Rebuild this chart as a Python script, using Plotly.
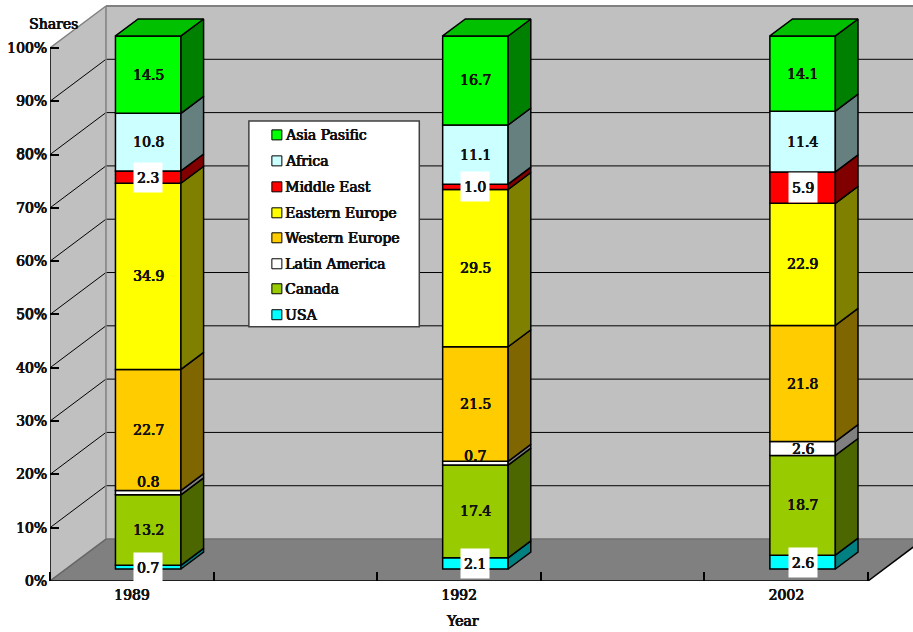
import plotly.graph_objects as go

# Market shares by region, stacked to 100% for each year
years = ["1989", "1992", "2002"]
year_slots = [0.5, 2.5, 4.5]
regions = ["USA", "Canada", "Latin America", "Western Europe",
           "Eastern Europe", "Middle East", "Africa", "Asia Pasific"]
usa = [0.7, 2.1, 2.6]
canada = [13.2, 17.4, 18.7]
latin_america = [0.8, 0.7, 2.6]
western_europe = [22.7, 21.5, 21.8]
eastern_europe = [34.9, 29.5, 22.9]
middle_east = [2.3, 1.0, 5.9]
africa = [10.8, 11.1, 11.4]
asia_pacific = [14.5, 16.7, 14.1]
series = [usa, canada, latin_america, western_europe,
          eastern_europe, middle_east, africa, asia_pacific]

front_colors = ["#00FFFF", "#99CC00", "#FFFFFF", "#FFCC00",
                "#FFFF00", "#FF0000", "#CCFFFF", "#00FF00"]
side_colors = ["#008080", "#4C6600", "#808080", "#806600",
               "#808000", "#800000", "#668080", "#008000"]
top_color = "#00C000"

y_ticks = [0, 10, 20, 30, 40, 50, 60, 70, 80, 90, 100]
y_tick_labels = ["0%", "10%", "20%", "30%", "40%", "50%", "60%", "70%", "80%", "90%", "100%"]

# Regular serif thickened with hairline offset copies of each glyph
INK = "#111111"
FONT = dict(family="DejaVu Serif", size=14, color=INK,
            shadow=f"0.6px 0 0 {INK}, 0.3px 0.2px 0 {INK}, -0.2px 0 0 {INK}")

# Plot geometry: one x unit per slot, y in percent
W, H = 913, 632
LEFT, BOTTOM = 49.5, 50.5
X_UNIT = (868 - 49.5) / 5
Y_UNIT = (581.5 - 48) / 100
X_MAX = (W - LEFT) / X_UNIT
Y_MAX = (H - BOTTOM) / Y_UNIT

# Oblique projection: depth 0 is the front plane, depth 1 the back wall
DEPTH_X = 56 / X_UNIT
DEPTH_Y = 42 / Y_UNIT
BAR_FRONT, BAR_BACK = 12 / 42, 29 / 42
BAR_WIDTH = 65.5 / X_UNIT
BAR_NUDGE = 0.4 / X_UNIT


def project(x, pct, depth):
    return x + depth * DEPTH_X, pct + depth * DEPTH_Y


def from_px(px, py):
    return (px - LEFT) / X_UNIT, (H - BOTTOM - py) / Y_UNIT


def polygon(points):
    return "M" + " L".join(f"{x:.4f},{y:.4f}" for x, y in points) + " Z"


def shape_path(points, fill, line="rgba(0,0,0,0)", width=0):
    return dict(type="path", path=polygon(points), fillcolor=fill, xref="x", yref="y",
                line=dict(color=line, width=width), layer="below")


def shape_line(a, b, color, width):
    return dict(type="line", x0=a[0], y0=a[1], x1=b[0], y1=b[1], xref="x", yref="y",
                line=dict(color=color, width=width), layer="below")


shapes = [
    shape_path([project(0, 0, 0), project(0, 100, 0), project(0, 100, 1), project(0, 0, 1)], "#C0C0C0"),
    shape_path([project(0, 0, 1), project(0, 100, 1), project(5, 100, 1), project(5, 0, 1)], "#C0C0C0"),
    shape_path([project(0, 0, 0), project(0, 0, 1), project(5, 0, 1), project(5, 0, 0)], "#808080"),
]
for tick in y_ticks[1:-1]:
    shapes.append(shape_line(project(0, tick, 0), project(0, tick, 1), "#000000", 1))
    shapes.append(shape_line(project(0, tick, 1), project(5, tick, 1), "#000000", 1))
shapes += [
    shape_line(project(0, 100, 0), project(0, 100, 1), "#808080", 1.5),
    shape_line(project(0, 100, 1), project(5, 100, 1), "#808080", 2),
    shape_line(project(0, 0, 1), project(0, 100, 1), "#808080", 1.5),
    shape_line(project(0, 0, 0), project(0, 0, 1), "#666666", 1.5),
    shape_line(project(0, 0, 1), project(5, 0, 1), "#707070", 1.5),
    shape_line(project(5, 0, 0), project(5, 0, 1), "#000000", 1.5),
]

fig = go.Figure()
annotations = []


def text_label(x, y, text, anchor="center", yref="y", **extra):
    annotations.append(dict(x=x, y=y, xref="x", yref=yref, text=text, showarrow=False,
                            xanchor=anchor, yanchor="middle", font=FONT, **extra))


# Stack each year, scaled to a full 100%
totals = [sum(s[i] for s in series) for i in range(len(years))]
running = [0.0] * len(years)
thin_label_lift = [1.6, 1.0, 0.0]
for k, (name, values) in enumerate(zip(regions, series)):
    shares = [v / t * 100 for v, t in zip(values, totals)]
    bases = list(running)
    tops = [b + s for b, s in zip(bases, shares)]
    front_base = [project(0, b, BAR_FRONT)[1] for b in bases]
    centers = [project(x, 0, BAR_FRONT)[0] + BAR_NUDGE for x in year_slots]

    fig.add_trace(go.Bar(x=centers, y=shares, base=front_base, width=BAR_WIDTH, name=name,
                         marker=dict(color=front_colors[k], line=dict(color="#000000", width=1.5)),
                         hoverinfo="skip", showlegend=False))

    # Right-hand face of every segment
    xs, ys = [], []
    for slot, b, t in zip(year_slots, bases, tops):
        right = slot + BAR_NUDGE + BAR_WIDTH / 2
        corners = [project(right, b, BAR_FRONT), project(right, b, BAR_BACK),
                   project(right, t, BAR_BACK), project(right, t, BAR_FRONT),
                   project(right, b, BAR_FRONT)]
        xs += [c[0] for c in corners] + [None]
        ys += [c[1] for c in corners] + [None]
    fig.add_trace(go.Scatter(x=xs, y=ys, mode="lines", fill="toself", fillcolor=side_colors[k],
                             line=dict(color="#000000", width=1.5), hoverinfo="skip",
                             showlegend=False, cliponaxis=False))

    # Value labels: thin segments carry a white box or sit just above the band
    for c, b, s, v, lift in zip(centers, front_base, shares, values, thin_label_lift):
        mid = b + s / 2
        if name == "Latin America" and v < 1:
            text_label(c, b + s + lift, f"{v:.1f}")
        elif name == "USA" or name == "Middle East":
            text_label(c, mid, f"{v:.1f}", bgcolor="#FFFFFF", width=26, height=27)
        else:
            text_label(c, mid, f"{v:.1f}")
    running = tops

# Top face of each column
xs, ys = [], []
for slot, t in zip(year_slots, running):
    left, right = slot + BAR_NUDGE - BAR_WIDTH / 2, slot + BAR_NUDGE + BAR_WIDTH / 2
    corners = [project(left, t, BAR_FRONT), project(left, t, BAR_BACK), project(right, t, BAR_BACK),
               project(right, t, BAR_FRONT), project(left, t, BAR_FRONT)]
    xs += [c[0] for c in corners] + [None]
    ys += [c[1] for c in corners] + [None]
fig.add_trace(go.Scatter(x=xs, y=ys, mode="lines", fill="toself", fillcolor=top_color,
                         line=dict(color="#000000", width=1.5), hoverinfo="skip",
                         showlegend=False, cliponaxis=False))

# Axis lines stop at the chart's own extent, not at the plot area's
for ax, ay in (([0, 0], [0, 100]), ([0, 5], [0, 0])):
    fig.add_trace(go.Scatter(x=ax, y=ay, mode="lines", line=dict(color="#000000", width=1.5),
                             hoverinfo="skip", showlegend=False, cliponaxis=False))

# Legend box, listed top-down from the last series
bx0, by0 = from_px(248.5, 121)
bx1, by1 = from_px(419, 327)
shapes.append(dict(type="rect", x0=bx0, y0=by0, x1=bx1, y1=by1, xref="x", yref="y",
                   fillcolor="#FFFFFF", line=dict(color="#404040", width=1.5), layer="below"))
legend_rows = [135, 161, 187, 213, 238, 264, 289, 315]
for row, name, color in zip(legend_rows, reversed(regions), reversed(front_colors)):
    sx0, sy0 = from_px(271.5, row - 5)
    sx1, sy1 = from_px(281.5, row + 5)
    shapes.append(dict(type="rect", x0=sx0, y0=sy0, x1=sx1, y1=sy1, xref="x", yref="y",
                       fillcolor=color, line=dict(color="#000000", width=1), layer="below"))
    tx, ty = from_px(282.5, row)
    text_label(tx, ty, name, anchor="left")

tx, ty = from_px(52.5, 24)
text_label(tx, ty, "Shares")
tx, _ = from_px(462, 622)
text_label(tx, (H - BOTTOM - 622) / (H - BOTTOM), "Year", yref="paper")

fig.update_layout(
    width=W, height=H,
    margin=dict(l=LEFT, r=0, t=0, b=BOTTOM, pad=0),
    paper_bgcolor="#FFFFFF", plot_bgcolor="#FFFFFF",
    barmode="overlay", showlegend=False, shapes=shapes, annotations=annotations,
    xaxis=dict(range=[0, X_MAX], tickmode="array", tickvals=year_slots, ticktext=years,
               ticks="", showgrid=False, zeroline=False, showline=False, tickfont=FONT,
               ticklabelstandoff=4,
               minor=dict(tickmode="array", tickvals=[0, 1, 2, 3, 4, 5], ticks="inside",
                          ticklen=9, tickwidth=1.5, tickcolor="#000000", showgrid=False)),
    yaxis=dict(range=[0, Y_MAX], tickmode="array", tickvals=y_ticks, ticktext=y_tick_labels,
               ticks="inside", ticklen=9, tickwidth=1.5, tickcolor="#000000",
               ticklabelstandoff=2,
               showgrid=False, zeroline=False, showline=False, tickfont=FONT),
)

fig.write_html("out.html", config=dict(displayModeBar=False))
